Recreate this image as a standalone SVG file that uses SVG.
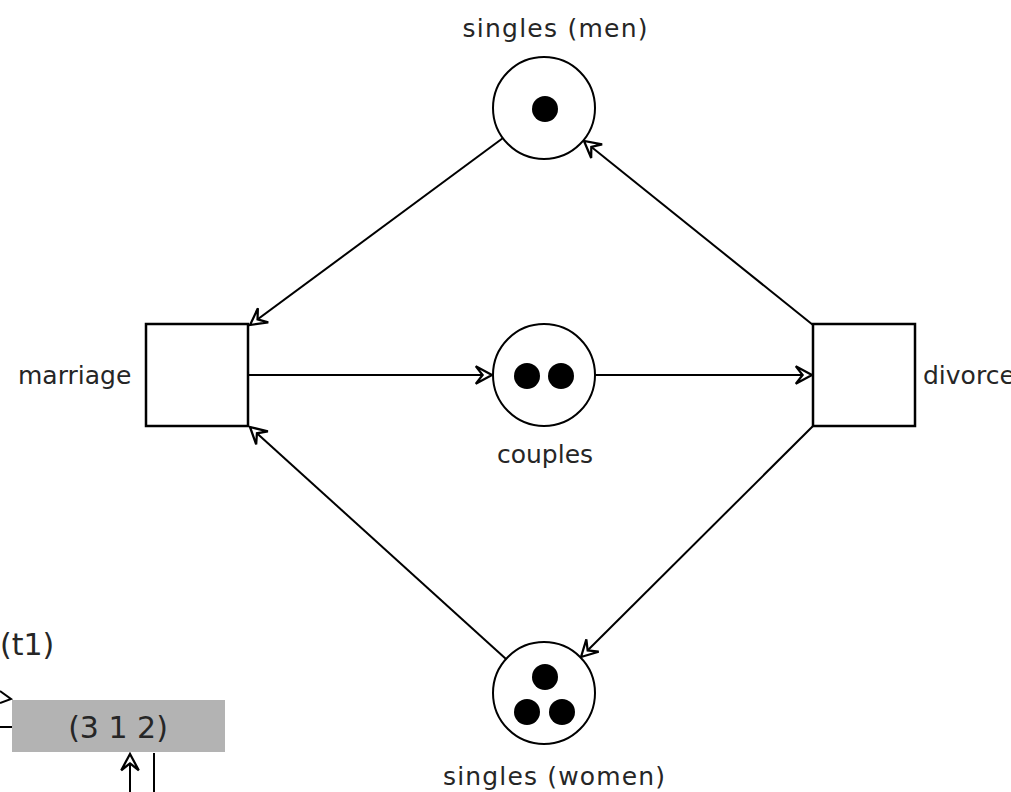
<svg xmlns="http://www.w3.org/2000/svg" width="1011" height="792" viewBox="0 0 1011 792">
<style>
.place{fill:#fff;stroke:#000;stroke-width:2}
.trans{fill:#fff;stroke:#000;stroke-width:2.5}
.tok{fill:#000}
.lbl{font-family:"DejaVu Sans",sans-serif;font-size:25px;fill:#262626}
.big{font-family:"DejaVu Sans",sans-serif;font-size:30px;fill:#262626}
.edge{stroke:#000;stroke-width:2;fill:none}
</style>
<defs>
<marker id="ah" markerUnits="userSpaceOnUse" markerWidth="20" markerHeight="20" viewBox="-14 -8 16 16" refX="0" refY="0" orient="auto">
<path d="M0,0 L-13,-7 L-7.5,0 L-13,7 Z" fill="#fff" stroke="#000" stroke-width="1.8" stroke-linejoin="miter"/>
</marker>
</defs>
<g id="connectors">
<line class="edge" x1="503" y1="138" x2="250" y2="325" marker-end="url(#ah)"/>
<line class="edge" x1="248" y1="375" x2="492" y2="375" marker-end="url(#ah)"/>
<line class="edge" x1="595" y1="375" x2="812" y2="375" marker-end="url(#ah)"/>
<line class="edge" x1="813" y1="325" x2="584" y2="141" marker-end="url(#ah)"/>
<line class="edge" x1="813" y1="426" x2="581" y2="657" marker-end="url(#ah)"/>
<line class="edge" x1="506" y1="659" x2="250" y2="427" marker-end="url(#ah)"/>
</g>
<g id="singles-men">
<circle class="place" cx="544" cy="108" r="51"/>
<circle class="tok" cx="545" cy="109" r="13"/>
<text class="lbl" x="555" y="37" text-anchor="middle" textLength="185" lengthAdjust="spacing">singles (men)</text>
</g>
<g id="couples">
<circle class="place" cx="544" cy="375" r="51"/>
<circle class="tok" cx="527" cy="376" r="13"/>
<circle class="tok" cx="561" cy="376" r="13"/>
<text class="lbl" x="545" y="463" text-anchor="middle">couples</text>
</g>
<g id="singles-women">
<circle class="place" cx="544" cy="693" r="51"/>
<circle class="tok" cx="545" cy="677" r="13"/>
<circle class="tok" cx="527" cy="712" r="13"/>
<circle class="tok" cx="562" cy="712" r="13"/>
<text class="lbl" x="554" y="785" text-anchor="middle" textLength="222" lengthAdjust="spacing">singles (women)</text>
</g>
<g id="marriage">
<rect class="trans" x="146" y="324" width="102" height="102"/>
<text class="lbl" x="18" y="384">marriage</text>
</g>
<g id="divorce">
<rect class="trans" x="813" y="324" width="102" height="102"/>
<text class="lbl" x="923" y="384">divorce</text>
</g>
<g id="t1-fragment">
<text class="big" x="0" y="655">(t1)</text>
<path d="M0,691 L11,699 L0,703" fill="none" stroke="#000" stroke-width="2"/>
<line x1="0" y1="727" x2="12" y2="727" stroke="#000" stroke-width="2"/>
<rect x="12" y="700" width="213" height="52" fill="#b3b3b3"/>
<text class="big" x="118" y="738" text-anchor="middle">(3 1 2)</text>
<line x1="130" y1="792" x2="130" y2="754" stroke="#000" stroke-width="2" marker-end="url(#ah)"/>
<line x1="154" y1="753" x2="154" y2="792" stroke="#000" stroke-width="2"/>
</g>
</svg>
